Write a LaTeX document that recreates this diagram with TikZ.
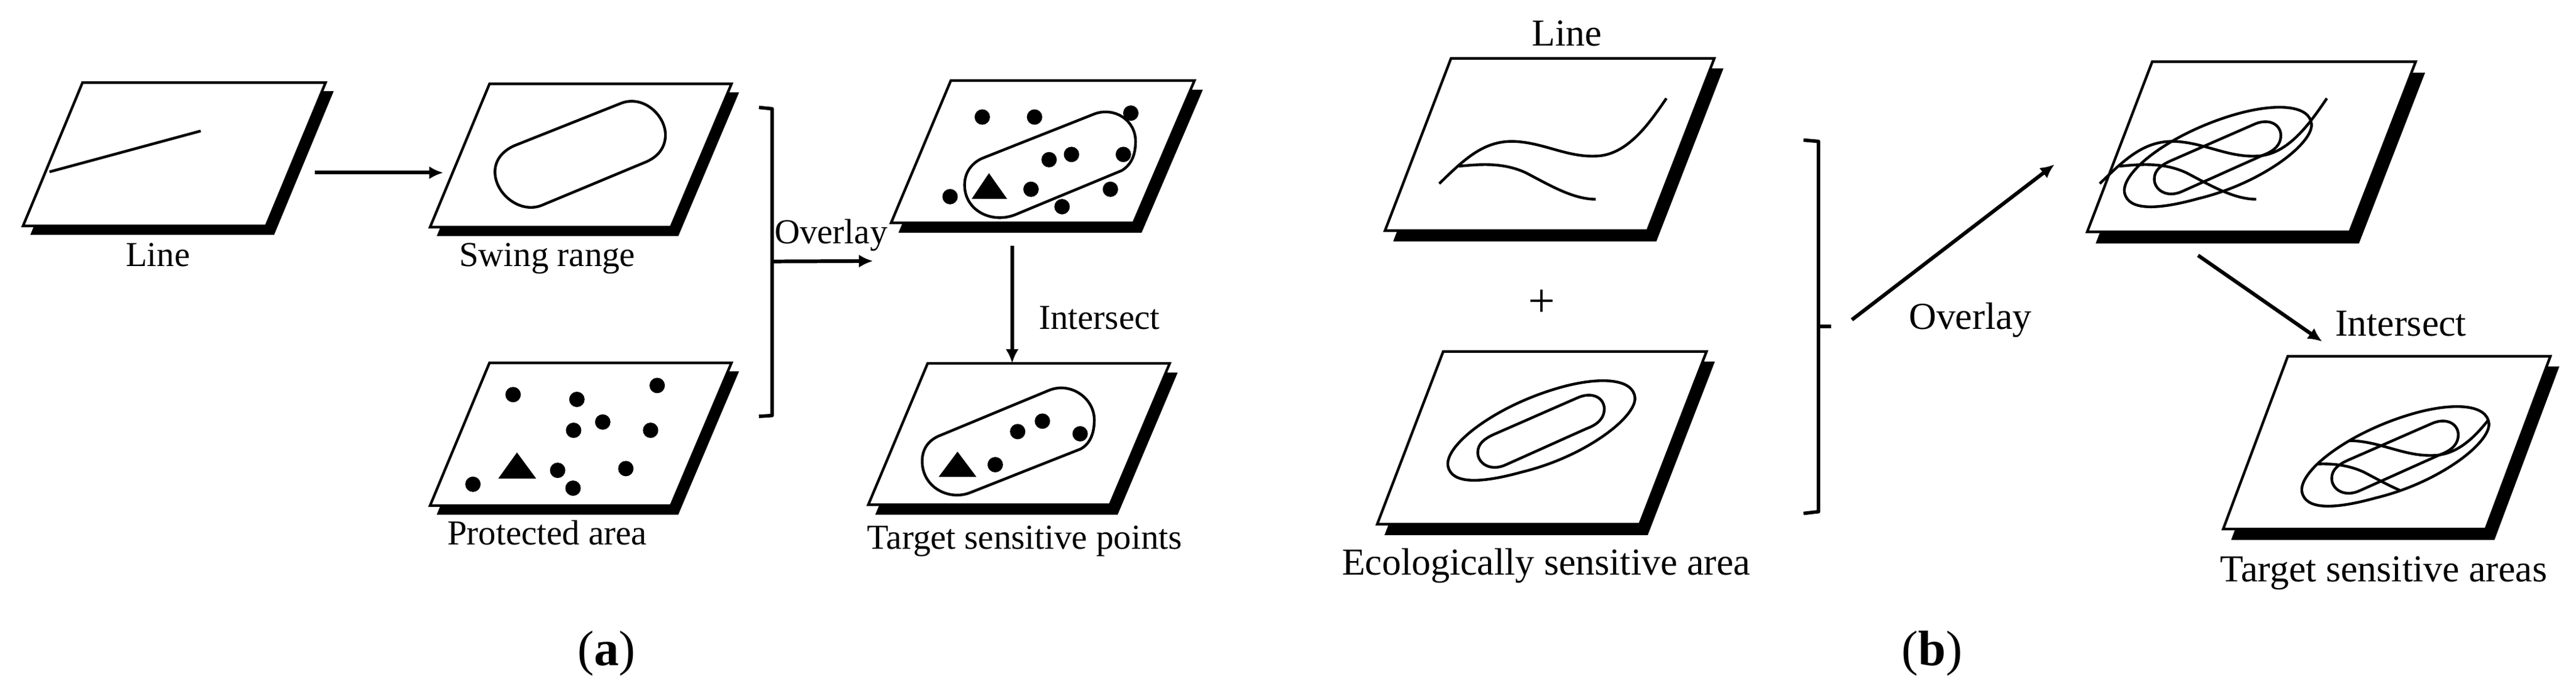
\documentclass[tikz,border=0pt]{standalone}
\usepackage{fontspec}
\setmainfont{Liberation Serif}
\usetikzlibrary{arrows.meta}
\tikzset{
  zone/.style={x=#1,y=-0.00707cm},
  za/.style={zone=0.00893cm},
  zb/.style={zone=0.00638cm,xshift=11cm},
  zc/.style={zone=0.00638cm,xshift=21cm},
  zd/.style={zone=0.00689cm,xshift=31cm},
  plateface/.style={draw=black,fill=white,line width=1.2pt,line join=miter},
  plateshadow/.style={fill=black,draw=black,line width=0.3pt},
  thincurve/.style={draw=black,line width=1.25pt},
  bracketline/.style={draw=black,line width=1.6pt,line join=round},
  arrowline/.style={draw=black,line width=1.7pt,-{Latex[length=6.5pt,width=6pt]}},
  labela/.style={font=\fontsize{16.2}{18}\selectfont,anchor=base,inner sep=0pt},
  labelb/.style={font=\fontsize{17.6}{20}\selectfont,anchor=base,inner sep=0pt},
  panelcap/.style={font=\fontsize{23}{26}\selectfont,anchor=base,inner sep=0pt},
  spotfill/.style={fill=black},
}
\newcommand{\plate}[5]{%
  \path[plateshadow,shift={#5}] #1 -- #2 -- #3 -- #4 -- cycle;
  \path[plateface] #1 -- #2 -- #3 -- #4 -- cycle;}
\newcommand{\spots}[1]{\foreach \p in {#1} {\fill[spotfill] \p circle[radius=0.125cm];}}
\def\outeroval{(392,1070) .. controls (385,1020) and (520,930) .. (680,890) .. controls (780,865) and (865,870) .. (868,915) .. controls (870,960) and (740,1050) .. (580,1085) .. controls (480,1110) and (400,1115) .. (392,1070) -- cycle}
\def\inneroval{(510,998) -- (720,915) .. controls (760,898) and (790,915) .. (790,940) .. controls (790,960) and (775,975) .. (745,985) -- (540,1068) .. controls (500,1085) and (468,1065) .. (468,1040) .. controls (468,1020) and (485,1008) .. (510,998) -- cycle}
\def\upperline{(370,422) .. controls (430,370) and (480,323) .. (560,325) .. controls (640,328) and (700,365) .. (780,358) .. controls (850,350) and (900,290) .. (948,226)}
\def\lowerline{(420,382) .. controls (470,378) and (530,372) .. (590,397) .. controls (650,425) and (710,458) .. (768,458)}
\begin{document}
\begin{tikzpicture}
\useasboundingbox[fill=white] (0,0) rectangle (41.81,-11.09);

% ---------- panel (a), left
\begin{scope}[za]
  \plate{(150,190)}{(592,190)}{(484,519)}{(42,519)}{(14,20)}
  \plate{(890,193)}{(1330,193)}{(1220,522)}{(782,522)}{(13,20)}
  \plate{(890,834)}{(1330,834)}{(1220,1162)}{(782,1162)}{(13,20)}
  \path[thincurve] (90,395) -- (365,301);
  \path[thincurve] (935,335) -- (1130,237) .. controls (1170,218) and (1210,265) .. (1210,310) .. controls (1210,335) and (1200,358) .. (1175,372) -- (985,472) .. controls (945,492) and (900,445) .. (900,395) .. controls (900,370) and (912,348) .. (935,335) -- cycle;
  \spots{(933,907),(1049,918),(1195,886),(1096,970),(1043,989),(1183,989),(1014,1081),(1138,1077),(1042,1122),(860,1113)}
  \fill[black] (940,1040) -- (975,1100) -- (906,1100) -- cycle;
  \node[labela] (lblLineA) at (287,612) {Line};
  \node[labela] (lblSwing) at (995,612) {Swing range};
  \node[labela] (lblProt) at (995,1252) {Protected area};
  \node[panelcap] (capA) at (1103,1530) {(\textbf{a})};
  \coordinate (a1out) at (572,397);
  \coordinate (a2in) at (806,397);
  \coordinate (brA1) at (1380,247);
  \coordinate (brA2) at (1404,250);
  \coordinate (brA3) at (1404,955);
  \coordinate (brA4) at (1380,957);
  \coordinate (brAm) at (1404,601);
\end{scope}
\draw[arrowline] (a1out) -- (a2in);
\draw[bracketline] (brA1) -- (brA2) -- (brA3) -- (brA4);

% ---------- panel (a), right
\begin{scope}[zb]
  \plate{(695,185)}{(1315,185)}{(1160,512)}{(543,512)}{(20,22)}
  \plate{(636,835)}{(1252,835)}{(1100,1160)}{(485,1160)}{(19,22)}
  \path[thincurve] (780,362) -- (1060,262) .. controls (1110,245) and (1165,275) .. (1165,325) .. controls (1165,355) and (1155,378) .. (1130,392) -- (860,493) .. controls (800,515) and (730,485) .. (730,425) .. controls (730,395) and (750,372) .. (780,362) -- cycle;
  \spots{(775,269),(908,269),(1153,260),(1002,355),(945,367),(1134,355),(899,435),(1101,435),(978,475),(693,452)}
  \fill[black] (792,398) -- (838,457) -- (748,457) -- cycle;
  \path[thincurve] (670,1000) -- (945,897) .. controls (1000,877) and (1060,915) .. (1060,965) .. controls (1060,995) and (1050,1020) .. (1025,1032) -- (745,1132) .. controls (690,1152) and (622,1120) .. (622,1060) .. controls (622,1030) and (640,1010) .. (670,1000) -- cycle;
  \spots{(865,992),(928,968),(1024,997),(808,1068)}
  \fill[black] (712,1038) -- (760,1096) -- (664,1096) -- cycle;
  \node[labela] (lblOvA) at (390,560) {Overlay};
  \node[labela] (lblIntA) at (1073,757) {Intersect};
  \node[labela] (lblTarA) at (883,1262) {Target sensitive points};
  \coordinate (ovAend) at (497,600);
  \coordinate (a4out) at (851,565);
  \coordinate (a5in) at (851,835);
\end{scope}
\draw[arrowline] (brAm) -- (ovAend);
\draw[arrowline] (a4out) -- (a5in);

% ---------- panel (b), left
\begin{scope}[zc]
  \plate{(400,134)}{(1070,134)}{(900,530)}{(232,530)}{(22,24)}
  \plate{(380,808)}{(1050,808)}{(880,1205)}{(212,1205)}{(20,24)}
  \path[thincurve] \upperline;
  \path[thincurve] \lowerline;
  \path[thincurve] \outeroval;
  \path[thincurve] \inneroval;
  \node[labelb] (lblLineB) at (695,105) {Line};
  \node[inner sep=0pt,font=\fontsize{22}{24}\selectfont] (plus) at (630,697) {+};
  \node[labelb] (lblEco) at (642,1322) {Ecologically sensitive area};
  \coordinate (brB1) at (1297,322);
  \coordinate (brB2) at (1335,325);
  \coordinate (brB3) at (1335,1176);
  \coordinate (brB4) at (1297,1180);
  \coordinate (brBm) at (1335,750);
  \coordinate (brBs) at (1367,750);
  \coordinate (ovBstart) at (1420,735);
\end{scope}
\draw[bracketline] (brB1) -- (brB2) -- (brB3) -- (brB4);
\draw[bracketline] (brBm) -- (brBs);

% ---------- panel (b), right
\begin{scope}[zd]
  \plate{(570,142)}{(1190,142)}{(1035,533)}{(417,533)}{(21,26)}
  \plate{(889,819)}{(1507,819)}{(1355,1216)}{(737,1216)}{(20,24)}
  \node[labelb] (lblOvB) at (142,757) {Overlay};
  \node[labelb] (lblIntB) at (1155,772) {Intersect};
  \node[labelb] (lblTarB) at (1115,1337) {Target sensitive areas};
  \node[panelcap] (capB) at (52,1530) {(\textbf{b})};
  \coordinate (ovBend) at (340,378);
  \coordinate (b3out) at (678,587);
  \coordinate (b4in) at (970,785);
\end{scope}
\draw[arrowline] (ovBstart) -- (ovBend);
\draw[arrowline] (b3out) -- (b4in);

% overlay plate contents (copies of the panel-b shapes)
\begin{scope}[zc,xshift=10.72cm]
  \path[thincurve] \upperline;
  \path[thincurve] \lowerline;
\end{scope}
\begin{scope}[zc,xshift=10.98cm,yshift=4.44cm]
  \path[thincurve] \outeroval;
  \path[thincurve] \inneroval;
\end{scope}
% result plate contents
\begin{scope}[zc,xshift=13.86cm,yshift=-0.42cm]
  \path[thincurve] \outeroval;
  \path[thincurve] \inneroval;
  \begin{scope}
    \clip \outeroval;
    \begin{scope}[xshift=-0.26cm,yshift=-4.44cm]
      \path[thincurve] \upperline;
      \path[thincurve] \lowerline;
    \end{scope}
  \end{scope}
\end{scope}
\end{tikzpicture}
\end{document}
